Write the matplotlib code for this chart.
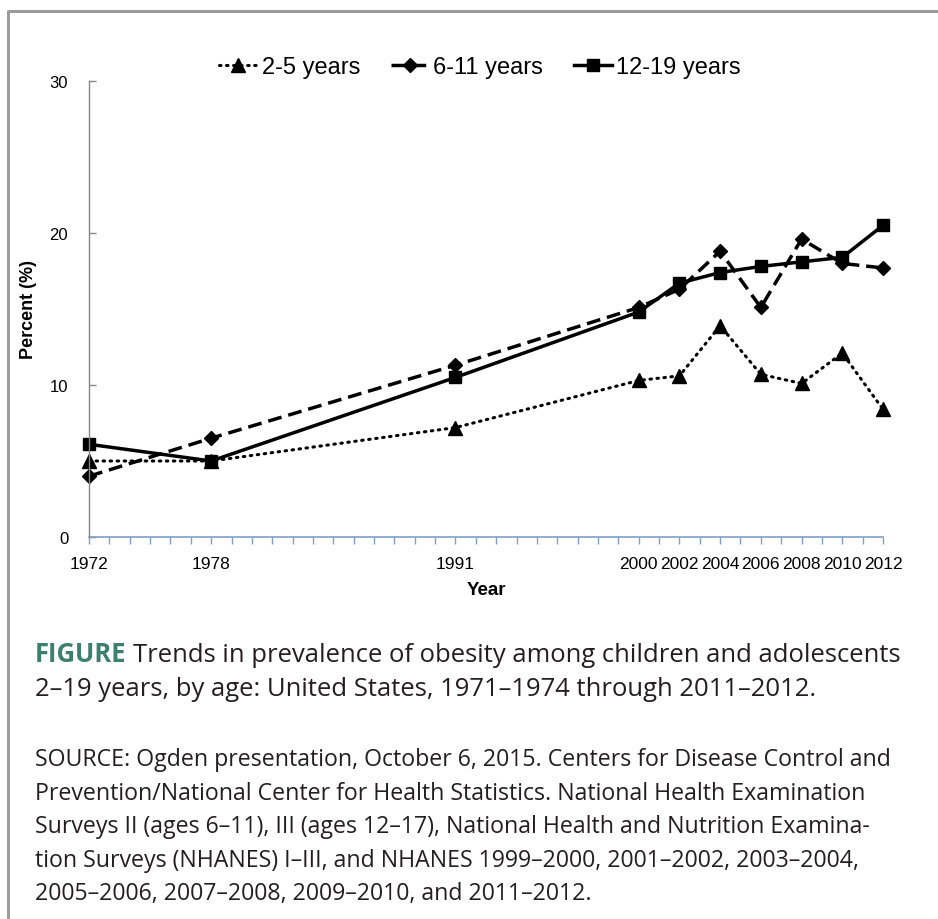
import matplotlib
matplotlib.use('Agg')
import matplotlib.pyplot as plt
from matplotlib import font_manager
from matplotlib.lines import Line2D

# ---------------- data ----------------
year_labels = ['1972', '1978', '1991', '2000', '2002', '2004', '2006', '2008', '2010', '2012']
year_slots = [0, 6, 18, 27, 29, 31, 33, 35, 37, 39]   # category slots on the Excel-style axis
n_slots = 40
age_2_5 = [5.0, 5.0, 7.2, 10.3, 10.6, 13.9, 10.7, 10.1, 12.1, 8.4]
age_6_11 = [4.0, 6.5, 11.3, 15.1, 16.3, 18.8, 15.1, 19.6, 18.0, 17.7]
age_12_19 = [6.1, 5.0, 10.5, 14.8, 16.7, 17.4, 17.8, 18.1, 18.4, 20.5]
series_labels = ['2-5 years', '6-11 years', '12-19 years']
y_ticks = [0, 10, 20, 30]

caption_bold = 'FIGURE'
caption_lines = ['Trends in prevalence of obesity among children and adolescents',
                 '2\u201319 years, by age: United States, 1971\u20131974 through 2011\u20132012.']
source_lines = [
    'SOURCE: Ogden presentation, October 6, 2015. Centers for Disease Control and',
    'Prevention/National Center for Health Statistics. National Health Examination',
    'Surveys II (ages 6\u201311), III (ages 12\u201317), National Health and Nutrition Examina-',
    'tion Surveys (NHANES) I\u2013III, and NHANES 1999\u20132000, 2001\u20132002, 2003\u20132004,',
    '2005\u20132006, 2007\u20132008, 2009\u20132010, and 2011\u20132012.',
]

# ---------------- fonts ----------------
names = {f.name for f in font_manager.fontManager.ttflist}
chart_font = 'Liberation Sans' if 'Liberation Sans' in names else 'DejaVu Sans'
cap_font = 'Liberation Sans Narrow' if 'Liberation Sans Narrow' in names else 'Open Sans'
plt.rcParams['font.family'] = [chart_font, 'DejaVu Sans']

W, H = 938, 920
fig = plt.figure(figsize=(W / 100, H / 100), dpi=100)
fig.patch.set_facecolor('white')

def fx(px):
    return px / W

def fy(py):
    return 1 - py / H

# outer frame (top and left)
frame_c = '#9b9b9b'
fig.add_artist(Line2D([fx(8), 1.0], [fy(12), fy(12)], color=frame_c, lw=2.2,
                      transform=fig.transFigure, solid_capstyle='butt'))
fig.add_artist(Line2D([fx(8), fx(8)], [fy(11), 0.0], color=frame_c, lw=2.2,
                      transform=fig.transFigure, solid_capstyle='butt'))

# ---------------- chart ----------------
ax = fig.add_axes([fx(89), fy(538), fx(883) - fx(89), fy(82) - fy(538)])
ax.set_xlim(0, n_slots - 1)
ax.set_ylim(0, 30)

l1, = ax.plot(year_slots, age_2_5, color='black', lw=2.2, linestyle=(0, (0.5, 1.8)),
              dash_capstyle='round', marker='^', markersize=10, label=series_labels[0],
              clip_on=False)
l2, = ax.plot(year_slots, age_6_11, color='black', lw=2.5, linestyle=(0, (4, 2)),
              marker='D', markersize=7.5, label=series_labels[1], clip_on=False)
l3, = ax.plot(year_slots, age_12_19, color='black', lw=2.5, linestyle='-',
              marker='s', markersize=9, label=series_labels[2], clip_on=False)

for s in ['top', 'right']:
    ax.spines[s].set_visible(False)
ax.spines['left'].set_color('#868686')
ax.spines['left'].set_linewidth(1.0)
ax.spines['bottom'].set_color('#7f9fc8')
ax.spines['bottom'].set_linewidth(1.2)

ax.set_yticks(y_ticks)
ax.tick_params(axis='y', direction='in', length=5, width=1.0, color='#868686',
               labelsize=12, pad=15)
ax.set_xticks(range(n_slots), minor=True)
ax.set_xticks(year_slots)
ax.set_xticklabels(year_labels)
ax.tick_params(axis='x', which='both', direction='out', length=5, width=1.0,
               color='#7f9fc8', labelsize=12.5, pad=9)

ax.set_xlabel('Year', fontsize=13.5, fontweight='bold', labelpad=7)
ax.set_ylabel('Percent (%)', fontsize=13, fontweight='bold', labelpad=9)

fig.legend(handles=[l1, l2, l3], loc='center', bbox_to_anchor=(fx(480), fy(68)),
           ncol=3, frameon=False, fontsize=17, handlelength=1.6, handletextpad=0.2,
           columnspacing=1.3, borderaxespad=0)

# ---------------- caption ----------------
r = fig.canvas.get_renderer()

def width_px(text, size, weight='normal'):
    t = fig.text(0, 0, text, fontsize=size, family=[cap_font, 'DejaVu Sans'], fontweight=weight)
    w = t.get_window_extent(r).width
    t.remove()
    return w

text_c = '#231f20'
fig_c = '#3b7f6d'
base = 20
w_total = width_px(caption_bold + ' ', base, 'bold') + width_px(caption_lines[0], base)
cap_size = base * (900 - 35) / w_total
bold_t = fig.text(fx(35), fy(662), caption_bold, fontsize=cap_size, fontweight='bold',
                  color=fig_c, family=[cap_font, 'DejaVu Sans'], va='baseline')
bw = bold_t.get_window_extent(r).width + width_px(' ', cap_size)
fig.text(fx(35 + bw), fy(662), caption_lines[0], fontsize=cap_size, color=text_c,
         family=[cap_font, 'DejaVu Sans'], va='baseline')
fig.text(fx(35), fy(696), caption_lines[1], fontsize=cap_size, color=text_c,
         family=[cap_font, 'DejaVu Sans'], va='baseline')

src_size = base * (892 - 35) / width_px(source_lines[0], base)
for i, line in enumerate(source_lines):
    fig.text(fx(35), fy(766 + i * 33.6), line, fontsize=src_size, color=text_c,
             family=[cap_font, 'DejaVu Sans'], va='baseline')

fig.savefig('out.png', dpi=100, facecolor='white')
